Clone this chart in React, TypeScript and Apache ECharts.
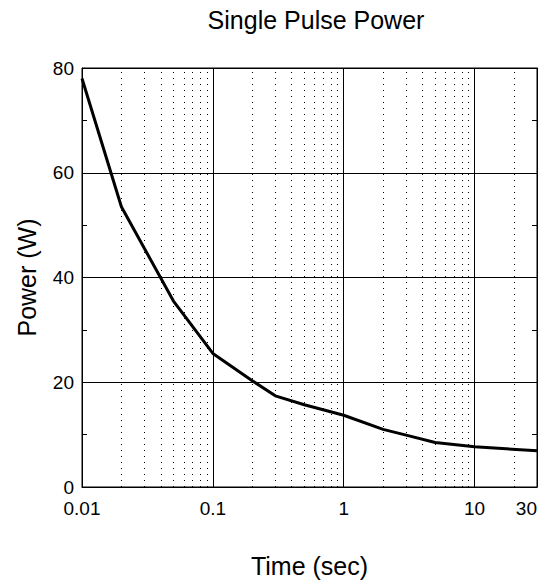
import React, { useEffect, useRef } from "react";
import * as echarts from "echarts";

const timeSec = [0.01, 0.02, 0.05, 0.1, 0.2, 0.3, 0.5, 1, 2, 3, 5, 10, 30];
const powerW = [78.0, 53.5, 35.5, 25.5, 20.3, 17.4, 15.7, 13.7, 11.0, 9.9, 8.5, 7.7, 6.9];
const xTickLabels = [0.01, 0.1, 1, 10, 30];
const majorX = [0.1, 1, 10];
const minorX = [
  0.02, 0.03, 0.04, 0.05, 0.06, 0.07, 0.08, 0.09,
  0.2, 0.3, 0.4, 0.5, 0.6, 0.7, 0.8, 0.9,
  2, 3, 4, 5, 6, 7, 8, 9, 20,
];

const FONT = "'Liberation Sans', Arial, Helvetica, sans-serif";

export default function App() {
  const ref = useRef<HTMLDivElement>(null);
  useEffect(() => {
    if (!ref.current) return;
    const chart = echarts.init(ref.current, undefined, { renderer: "svg" });
    const yAxisBase = {
      type: "value",
      min: 0,
      max: 80,
      interval: 20,
      axisLine: { show: true, lineStyle: { color: "#000", width: 1 } },
      axisTick: { show: true, inside: true, length: 6, lineStyle: { color: "#000" } },
      minorTick: { show: true, splitNumber: 2, length: 5, lineStyle: { color: "#000" } },
    };
    chart.setOption({
      animation: false,
      backgroundColor: "#fff",
      textStyle: { fontFamily: FONT },
      title: {
        text: "Single Pulse Power",
        left: 311,
        textAlign: "center",
        top: 2,
        textStyle: { fontSize: 25, fontWeight: "normal", color: "#000", fontFamily: FONT },
      },
      grid: {
        left: 82,
        top: 68,
        right: 5,
        bottom: 99,
        show: true,
        borderColor: "#000",
        borderWidth: 1,
      },
      xAxis: {
        type: "log",
        logBase: 10,
        min: 0.01,
        max: 30,
        name: "Time (sec)",
        nameLocation: "middle",
        nameGap: 66,
        nameTextStyle: { fontSize: 25, color: "#000", fontFamily: FONT },
        axisLine: { show: true, lineStyle: { color: "#000", width: 1 } },
        axisTick: { show: false },
        splitLine: { show: false },
        axisLabel: {
          customValues: xTickLabels,
          fontSize: 19,
          color: "#000",
          margin: 12,
          alignMaxLabel: "right",
          showMaxLabel: true,
          showMinLabel: true,
          formatter: (v: number) => String(v),
        },
      },
      yAxis: [
        {
          ...yAxisBase,
          position: "left",
          name: "Power (W)",
          nameLocation: "middle",
          nameGap: 43,
          nameTextStyle: { fontSize: 25, color: "#000", fontFamily: FONT },
          axisLabel: { fontSize: 19, color: "#000", margin: 8 },
          splitLine: { show: true, lineStyle: { color: "#000", width: 1 } },
        },
        {
          ...yAxisBase,
          position: "right",
          axisLabel: { show: false },
          splitLine: { show: false },
        },
      ],
      series: [
        {
          type: "line",
          name: "grid",
          data: [],
          silent: true,
          markLine: {
            silent: true,
            symbol: "none",
            label: { show: false },
            animation: false,
            lineStyle: { color: "#000", width: 1, type: [1, 5] },
            data: minorX.map((v) => ({ xAxis: v })),
          },
        },
        {
          type: "line",
          name: "major",
          data: [],
          silent: true,
          markLine: {
            silent: true,
            symbol: "none",
            label: { show: false },
            animation: false,
            lineStyle: { color: "#000", width: 1, type: "solid" },
            data: majorX.map((v) => ({ xAxis: v })),
          },
        },
        {
          type: "line",
          name: "Power",
          data: timeSec.map((t, i) => [t, powerW[i]]),
          showSymbol: false,
          symbol: "none",
          smooth: false,
          z: 10,
          lineStyle: { color: "#000", width: 3 },
        },
      ],
    });
    return () => chart.dispose();
  }, []);
  return (
    <div
      ref={ref}
      style={{ position: "fixed", left: 0, top: 0, width: 542, height: 586, background: "#fff" }}
    />
  );
}
